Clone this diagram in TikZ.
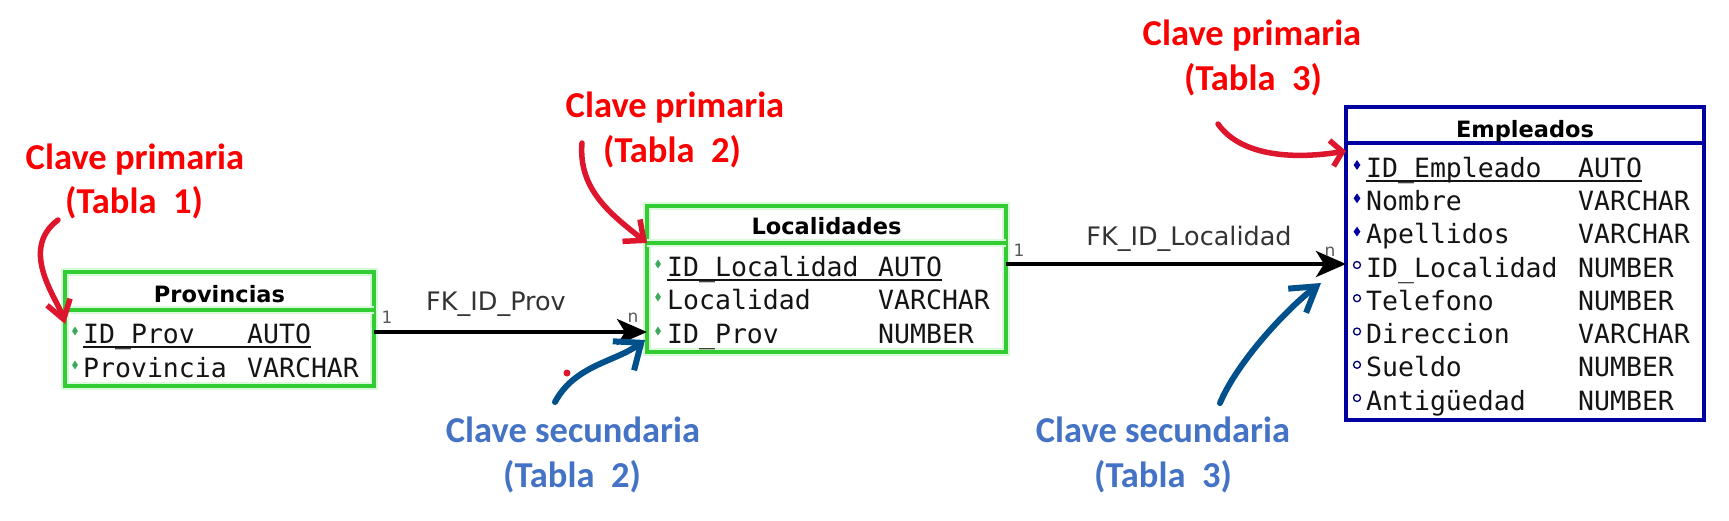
\documentclass[tikz,border=0pt]{standalone}
\usepackage{fontspec}
\usetikzlibrary{arrows.meta,shapes.geometric}
\newfontfamily\annotfont{Carlito}
\newfontfamily\rowfont{DejaVu Sans Mono}
\newfontfamily\hdrfont{DejaVu Sans}
\definecolor{tgreen}{RGB}{50,205,50}
\definecolor{tglow}{RGB}{218,248,218}
\definecolor{bgreen}{RGB}{60,170,90}
\definecolor{tnavy}{RGB}{0,0,160}
\definecolor{annred}{RGB}{250,0,0}
\definecolor{arrred}{RGB}{222,22,45}
\definecolor{annblue}{RGB}{68,114,196}
\definecolor{arrblue}{RGB}{0,80,140}
\definecolor{rowtext}{RGB}{20,20,20}
\begin{document}
\begin{tikzpicture}[x=1pt,y=-1pt,
  gbox/.style={draw=tgreen, line width=4pt, inner sep=0pt, outer sep=0pt,
    preaction={draw=tglow, line width=8pt}},
  bbox/.style={draw=tnavy, line width=3.5pt, inner sep=0pt, outer sep=0pt},
  gline/.style={draw=tgreen, line width=4pt, preaction={draw=tglow, line width=8pt}},
  bline/.style={draw=tnavy, line width=3.5pt},
  hdr/.style={font=\hdrfont\bfseries\fontsize{22.5}{27}\selectfont, anchor=base, inner sep=0pt, text=black},
  rowtxt/.style={font=\rowfont\fontsize{26.5}{30}\selectfont, anchor=base west, inner sep=0pt, text=rowtext},
  uline/.style={draw=rowtext, line width=2pt},
  gbul/.style={diamond, fill=bgreen, inner sep=0pt, minimum width=6pt, minimum height=9pt},
  nbul/.style={diamond, fill=tnavy, inner sep=0pt, minimum width=7pt, minimum height=10pt},
  obul/.style={circle, draw=tnavy!70!black, line width=1.3pt, inner sep=0pt, minimum size=7pt},
  annr/.style={font=\annotfont\bfseries\fontsize{36.5}{40}\selectfont, text=annred, anchor=base, inner sep=0pt},
  annb/.style={font=\annotfont\bfseries\fontsize{36.5}{40}\selectfont, text=annblue, anchor=base, inner sep=0pt},
  fklab/.style={font=\hdrfont\fontsize{25.5}{30}\selectfont, text=black!80, anchor=base, inner sep=0pt},
  card/.style={font=\hdrfont\fontsize{17}{19}\selectfont, text=black!65, inner sep=0pt},
  fk/.style={draw=black, line width=4pt, -{Stealth[length=30pt,width=26pt,inset=8pt]}},
  redhand/.style={draw=arrred, line width=5.5pt, line cap=round, line join=round},
  bluehand/.style={draw=arrblue, line width=6pt, line cap=round, line join=round}
]
\useasboundingbox (0,0) rectangle (1729,520);

% ---------------- Provincias ----------------
\node[gbox, minimum width=309pt, minimum height=114pt] (prov) at (219.5,329) {};
\draw[gline] (prov.west |- 0,310) -- (prov.east |- 0,310);
\node[hdr] (provh) at (219.5,302) {Provincias};
\node[rowtxt] (p1n) at (83,343) {ID\_Prov};
\node[rowtxt] (p1t) at (247,343) {AUTO};
\node[rowtxt] (p2n) at (83,377) {Provincia};
\node[rowtxt] (p2t) at (247,377) {VARCHAR};
\draw[uline] ([yshift=-4pt]p1n.base west) -- ([yshift=-4pt]p1t.base east);
\node[gbul] (pb1) at (75,331) {};
\node[gbul] (pb2) at (75,365) {};

% ---------------- Localidades ----------------
\node[gbox, minimum width=359pt, minimum height=146pt] (loc) at (826.5,279) {};
\draw[gline] (loc.west |- 0,243) -- (loc.east |- 0,243);
\node[hdr] (loch) at (826.5,234) {Localidades};
\node[rowtxt] (l1n) at (667,276) {ID\_Localidad};
\node[rowtxt] (l1t) at (878,276) {AUTO};
\node[rowtxt] (l2n) at (667,309) {Localidad};
\node[rowtxt] (l2t) at (878,309) {VARCHAR};
\node[rowtxt] (l3n) at (667,343) {ID\_Prov};
\node[rowtxt] (l3t) at (878,343) {NUMBER};
\draw[uline] ([yshift=-4pt]l1n.base west) -- ([yshift=-4pt]l1t.base east);
\node[gbul] (lb1) at (658,264) {};
\node[gbul] (lb2) at (658,297) {};
\node[gbul] (lb3) at (658,331) {};

% ---------------- Empleados ----------------
\node[bbox, minimum width=358pt, minimum height=313pt] (emp) at (1525,263.5) {};
\draw[bline] (emp.west |- 0,143) -- (emp.east |- 0,143);
\node[hdr] (emph) at (1525,137) {Empleados};
\node[rowtxt] (e1n) at (1366,177) {ID\_Empleado};
\node[rowtxt] (e1t) at (1578,177) {AUTO};
\node[rowtxt] (e2n) at (1366,210.3) {Nombre};
\node[rowtxt] (e2t) at (1578,210.3) {VARCHAR};
\node[rowtxt] (e3n) at (1366,243.6) {Apellidos};
\node[rowtxt] (e3t) at (1578,243.6) {VARCHAR};
\node[rowtxt] (e4n) at (1366,277) {ID\_Localidad};
\node[rowtxt] (e4t) at (1578,277) {NUMBER};
\node[rowtxt] (e5n) at (1366,310.2) {Telefono};
\node[rowtxt] (e5t) at (1578,310.2) {NUMBER};
\node[rowtxt] (e6n) at (1366,343.5) {Direccion};
\node[rowtxt] (e6t) at (1578,343.5) {VARCHAR};
\node[rowtxt] (e7n) at (1366,376.8) {Sueldo};
\node[rowtxt] (e7t) at (1578,376.8) {NUMBER};
\node[rowtxt] (e8n) at (1366,410) {Antigüedad};
\node[rowtxt] (e8t) at (1578,410) {NUMBER};
\draw[uline] ([yshift=-4pt]e1n.base west) -- ([yshift=-4pt]e1t.base east);
\node[nbul] (eb1) at (1357,165) {};
\node[nbul] (eb2) at (1357,198.3) {};
\node[nbul] (eb3) at (1357,231.6) {};
\node[obul] (eb4) at (1357,265) {};
\node[obul] (eb5) at (1357,298.2) {};
\node[obul] (eb6) at (1357,331.5) {};
\node[obul] (eb7) at (1357,364.8) {};
\node[obul] (eb8) at (1357,398) {};

% ---------------- Relations ----------------
\draw[fk] (prov.east |- 0,332) -- (loc.west |- 0,332);
\node[fklab] (fk1) at (496,310) {FK\_ID\_Prov};
\node[card] (c1a) at (387,317) {1};
\node[card] (c1b) at (633,318) {n};

\draw[fk] (loc.east |- 0,264) -- (emp.west |- 0,264);
\node[fklab] (fk2) at (1189,245) {FK\_ID\_Localidad};
\node[card] (c2a) at (1019,250) {1};
\node[card] (c2b) at (1330,252) {n};

% ---------------- Annotations: primary keys ----------------
\node[annr] (pk1a) at (135,169) {Clave primaria};
\node[annr] (pk1b) at (134,213) {(Tabla~~1)};
\node[annr] (pk2a) at (675,117) {Clave primaria};
\node[annr] (pk2b) at (672,162) {(Tabla~~2)};
\node[annr] (pk3a) at (1252,45) {Clave primaria};
\node[annr] (pk3b) at (1253,90) {(Tabla~~3)};

\coordinate (r1s) at (58,220);
\coordinate (r2s) at (582,143);
\coordinate (r3s) at (1218,124);
\draw[redhand, -{Straight Barb[length=18pt,width=24pt]}]
  (r1s) .. controls (18,250) and (58,300) .. (prov.west |- 0,324);
\draw[redhand, -{Straight Barb[length=16pt,width=28pt]}]
  (r2s) .. controls (578,190) and (612,215) .. (loc.west |- 0,243);
\draw[redhand, -{Straight Barb[length=11pt,width=26pt]}]
  (r3s) .. controls (1240,155) and (1290,160) .. (emp.west |- 0,151);

% ---------------- Annotations: foreign keys ----------------
\node[annb] (fk2a) at (573,442) {Clave secundaria};
\node[annb] (fk2b) at (572,487) {(Tabla~~2)};
\node[annb] (fk3a) at (1163,442) {Clave secundaria};
\node[annb] (fk3b) at (1163,487) {(Tabla~~3)};

\coordinate (b2s) at (555,402);
\coordinate (b2e) at (645,340);
\coordinate (b3s) at (1220,403);
\coordinate (b3e) at (1321,283);
\draw[bluehand, -{Straight Barb[length=22pt,width=36pt]}]
  (b2s) .. controls (575,365) and (615,362) .. (b2e);
\draw[bluehand, -{Straight Barb[length=24pt,width=30pt]}]
  (b3s) .. controls (1238,360) and (1290,306) .. (b3e);
\fill[arrred] (567,373) circle (3.5pt);
\end{tikzpicture}
\end{document}
